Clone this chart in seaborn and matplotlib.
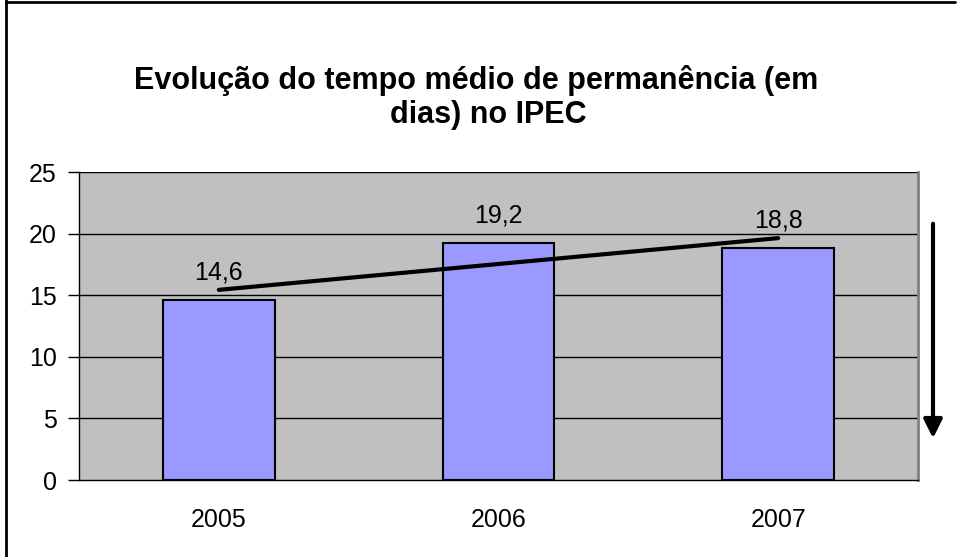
import numpy as np
import pandas as pd
import matplotlib
matplotlib.use("Agg")
import matplotlib.pyplot as plt
import seaborn as sns
from matplotlib.lines import Line2D

# Average length of stay (days) per year
years = ["2005", "2006", "2007"]
days = [14.6, 19.2, 18.8]
y_ticks = [0, 5, 10, 15, 20, 25]
title_lines = ["Evolução do tempo médio de permanência (em", "dias) no IPEC"]

sns.set_theme(style="white")
plt.rcParams["font.family"] = ["Liberation Sans", "DejaVu Sans"]
plt.rcParams["text.color"] = "black"
plt.rcParams["xtick.color"] = "black"
plt.rcParams["ytick.color"] = "black"

W, H = 958, 557
fig = plt.figure(figsize=(W / 100, H / 100), dpi=100)
fig.patch.set_facecolor("white")

# plot area in pixel coordinates
left, right, top, bottom = 79, 918, 172, 480
ax = fig.add_axes([left / W, (H - bottom) / H, (right - left) / W, (bottom - top) / H])
ax.set_facecolor("#C0C0C0")

df = pd.DataFrame({"ano": years, "dias": days})
sns.barplot(data=df, x="ano", y="dias", color="#9999FF", saturation=1,
            edgecolor="black", linewidth=1.5, width=0.4, ax=ax, zorder=3)

ax.set_ylim(0, 25)
ax.set_xlim(-0.5, len(years) - 0.5)
ax.set_yticks(y_ticks)
ax.set_yticklabels([str(t) for t in y_ticks], fontsize=18)
for t in y_ticks[1:]:
    ax.axhline(t, color="black", lw=1, zorder=1)

ax.set_xticks(range(len(years)))
ax.set_xticklabels(years, fontsize=18)
ax.set_xticks(np.arange(-0.5, len(years)), minor=True)
ax.tick_params(axis="x", which="major", length=0, pad=20)
ax.tick_params(axis="x", which="minor", length=8, width=1, color="black", direction="out")
ax.tick_params(axis="y", length=8, width=1, color="black", direction="out", left=True, pad=8)
ax.set_xlabel("")
ax.set_ylabel("")

for side in ["left", "bottom"]:
    ax.spines[side].set_color("black")
    ax.spines[side].set_linewidth(1)
ax.spines["top"].set_visible(False)
ax.spines["right"].set_color("#808080")
ax.spines["right"].set_linewidth(2)

# value labels above the bars
for i, v in enumerate(days):
    ax.annotate(f"{v:.1f}".replace(".", ","), xy=(i, v), xytext=(0, 15),
                textcoords="offset points", ha="center", va="baseline",
                fontsize=18, color="black", zorder=5)

# linear trend across the years
xs = np.arange(len(days))
slope, intercept = np.polyfit(xs, days, 1)
ax.plot([xs[0], xs[-1]], [intercept + slope * xs[0], intercept + slope * xs[-1]],
        color="black", lw=3, zorder=6, solid_capstyle="round")

# two-line title
for (cx, cy), line in zip([(476, 80), (488, 115)], title_lines):
    fig.text(cx / W, 1 - cy / H, line, ha="center", va="center",
             fontsize=22, fontweight="bold", color="black")

# downward arrow beside the plot area
fig.add_artist(matplotlib.patches.FancyArrowPatch(
    (933 / W, 1 - 221 / H), (933 / W, 1 - 441 / H), transform=fig.transFigure,
    arrowstyle="-|>", mutation_scale=28, lw=3, color="black"))

# chart frame
fig.add_artist(Line2D([6 / W, 6 / W], [0, 1], transform=fig.transFigure, color="black", lw=2))
fig.add_artist(Line2D([6 / W, 955 / W], [1 - 1.5 / H, 1 - 1.5 / H], transform=fig.transFigure, color="black", lw=2))

fig.savefig("out.png", dpi=100)
